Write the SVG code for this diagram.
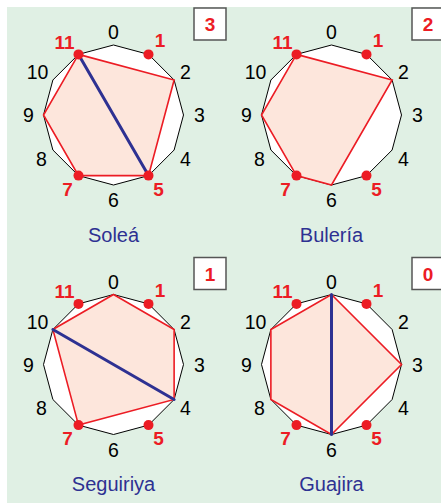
<svg xmlns="http://www.w3.org/2000/svg" width="441" height="503" viewBox="0 0 441 503">
<defs>
<style>
.bg{fill:#e0f0e4}
.dod{fill:#fff;stroke:#000;stroke-width:1}
.poly{fill:#fde6dc;stroke:#ec1c24;stroke-width:1.6;stroke-linejoin:miter}
.axis{stroke:#2e3192;stroke-width:3;stroke-linecap:round}
.dot{fill:#ec1c24}
.lb{font-family:"Liberation Sans",Arial,sans-serif;font-size:19.5px;fill:#000;text-anchor:middle}
.rl{font-family:"Liberation Sans",Arial,sans-serif;font-size:19px;font-weight:bold;fill:#ec1c24;text-anchor:middle}
.title{font-family:"Liberation Sans",Arial,sans-serif;font-size:20px;fill:#2e3192;text-anchor:middle}
.box{fill:#fff;stroke:#555;stroke-width:1.5}
</style>
<g id="dial">
<polygon class="dod" points="0,-70 35,-60.62 60.62,-35 70,0 60.62,35 35,60.62 0,70 -35,60.62 -60.62,35 -70,0 -60.62,-35 -35,-60.62"/>
</g>
<g id="labels">
<text class="lb" x="0" y="-76">0</text>
<text class="lb" x="72" y="-36">2</text>
<text class="lb" x="86" y="7">3</text>
<text class="lb" x="72" y="50.5">4</text>
<text class="lb" x="0" y="92">6</text>
<text class="lb" x="-72" y="50.5">8</text>
<text class="lb" x="-85" y="7">9</text>
<text class="lb" x="-76" y="-36">10</text>
<text class="rl" x="46.5" y="-68">1</text>
<text class="rl" x="-49" y="-66.5">11</text>
<text class="rl" x="45" y="80.5">5</text>
<text class="rl" x="-46" y="80.5">7</text>
</g>
<g id="dots">
<circle class="dot" cx="35" cy="-60.62" r="5"/>
<circle class="dot" cx="35" cy="60.62" r="5"/>
<circle class="dot" cx="-35" cy="60.62" r="5"/>
<circle class="dot" cx="-35" cy="-60.62" r="5"/>
</g>
</defs>
<rect class="bg" x="7" y="7" width="434" height="496"/>

<g id="solea" transform="translate(113.5,115)">
<use href="#dial"/>
<polygon class="poly" points="-35,-60.62 60.62,-35 35,60.62 -35,60.62 -70,0"/>
<line class="axis" x1="-35" y1="-60.62" x2="35" y2="60.62"/>
<use href="#dots"/>
<use href="#labels"/>
<text class="title" x="0" y="126.5">Soleá</text>
<rect class="box" x="80.5" y="-107" width="32" height="32"/>
<text class="rl" x="96.5" y="-84">3</text>
</g>

<g id="buleria" transform="translate(331.5,115)">
<use href="#dial"/>
<polygon class="poly" points="-35,-60.62 60.62,-35 0,70 -35,60.62 -70,0"/>
<use href="#dots"/>
<use href="#labels"/>
<text class="title" x="0" y="126.5">Bulería</text>
<rect class="box" x="80.5" y="-107" width="32" height="32"/>
<text class="rl" x="96.5" y="-84">2</text>
</g>

<g id="seguiriya" transform="translate(113.5,364.5)">
<use href="#dial"/>
<polygon class="poly" points="0,-70 60.62,-35 60.62,35 -35,60.62 -60.62,-35"/>
<line class="axis" x1="-60.62" y1="-35" x2="60.62" y2="35"/>
<use href="#dots"/>
<use href="#labels"/>
<text class="title" x="0" y="126.5">Seguiriya</text>
<rect class="box" x="80.5" y="-107" width="32" height="32"/>
<text class="rl" x="96.5" y="-84">1</text>
</g>

<g id="guajira" transform="translate(331.5,364.5)">
<use href="#dial"/>
<polygon class="poly" points="0,-70 70,0 0,70 -60.62,35 -60.62,-35"/>
<line class="axis" x1="0" y1="-70" x2="0" y2="70"/>
<use href="#dots"/>
<use href="#labels"/>
<text class="title" x="0" y="126.5">Guajira</text>
<rect class="box" x="80.5" y="-107" width="32" height="32"/>
<text class="rl" x="96.5" y="-84">0</text>
</g>
</svg>
